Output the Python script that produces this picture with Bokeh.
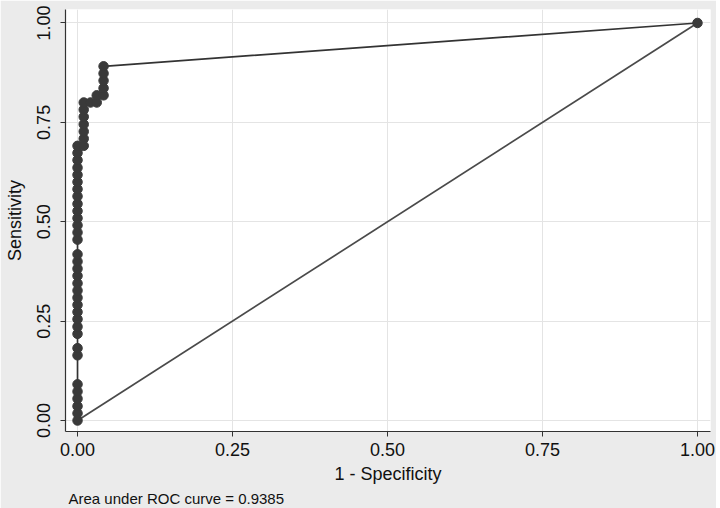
from bokeh.plotting import figure
from bokeh.models import Range1d, FixedTicker, Title, NumeralTickFormatter
from bokeh.embed import file_html
from bokeh.resources import INLINE

# ROC curve points (1 - specificity, sensitivity)
fpr = [0.0] * 34 + [0.010] * 7 + [0.021] + [0.031] * 2 + [0.042] * 5 + [1.0]
tpr = [0.000, 0.018, 0.036, 0.055, 0.073, 0.091, 0.164, 0.182,
       0.218, 0.236, 0.255, 0.273, 0.291, 0.309, 0.327, 0.345, 0.364,
       0.382, 0.400, 0.418, 0.455, 0.473, 0.491, 0.509, 0.527, 0.545,
       0.564, 0.582, 0.600, 0.618, 0.636, 0.655, 0.673, 0.691,
       0.691, 0.709, 0.727, 0.745, 0.764, 0.782, 0.800,
       0.800,
       0.800, 0.818,
       0.818, 0.836, 0.855, 0.873, 0.891,
       1.000]
ref_x = [0.0, 1.0]
ref_y = [0.0, 1.0]
ticks = [0.0, 0.25, 0.5, 0.75, 1.0]
auc_text = "Area under ROC curve = 0.9385"

FONT = "Liberation Sans"

p = figure(width=716, height=508, output_backend="svg", toolbar_location=None,
           x_range=Range1d(-0.0194, 1.021), y_range=Range1d(-0.0276, 1.0339),
           min_border_left=65, min_border_right=6, min_border_top=9,
           min_border_bottom=76)
p.background_fill_color = "white"
p.border_fill_color = "#ebebeb"
p.outline_line_color = None

for g in (p.xgrid, p.ygrid):
    g.ticker = FixedTicker(ticks=ticks)
    g.grid_line_color = "#e4e4e4"
    g.grid_line_width = 1

for ax in (p.xaxis, p.yaxis):
    ax.ticker = FixedTicker(ticks=ticks)
    ax.formatter = NumeralTickFormatter(format="0.00")
    ax.major_tick_out = 5
    ax.major_tick_in = 0
    ax.minor_tick_line_color = None
    ax.axis_line_color = "#333333"
    ax.axis_line_width = 1.2
    ax.major_tick_line_color = "#333333"
    ax.major_label_text_font = FONT
    ax.major_label_text_font_size = "18px"
    ax.major_label_text_color = "#111111"
    ax.axis_label_text_font = FONT
    ax.axis_label_text_font_size = "18px"
    ax.axis_label_text_font_style = "normal"
    ax.axis_label_text_color = "#111111"

p.xaxis.axis_label = "1 - Specificity"
p.yaxis.axis_label = "Sensitivity"
p.yaxis.major_label_orientation = "vertical"
p.xaxis.major_label_standoff = 6
p.yaxis.major_label_standoff = 10
p.xaxis.axis_label_standoff = 5
p.yaxis.axis_label_standoff = 10

p.add_layout(Title(text=auc_text, align="left", offset=3,
                   text_font=FONT, text_font_size="15px",
                   text_font_style="normal", text_color="#111111",
                   standoff=3), "below")

p.line(ref_x, ref_y, line_color="#4a4a4a", line_width=1.7)
p.line(fpr, tpr, line_color="#333333", line_width=1.7)
p.scatter(fpr, tpr, size=9.5, fill_color="#3a3a3a", line_color="#3a3a3a")

open("out.html", "w").write(file_html(p, INLINE))
